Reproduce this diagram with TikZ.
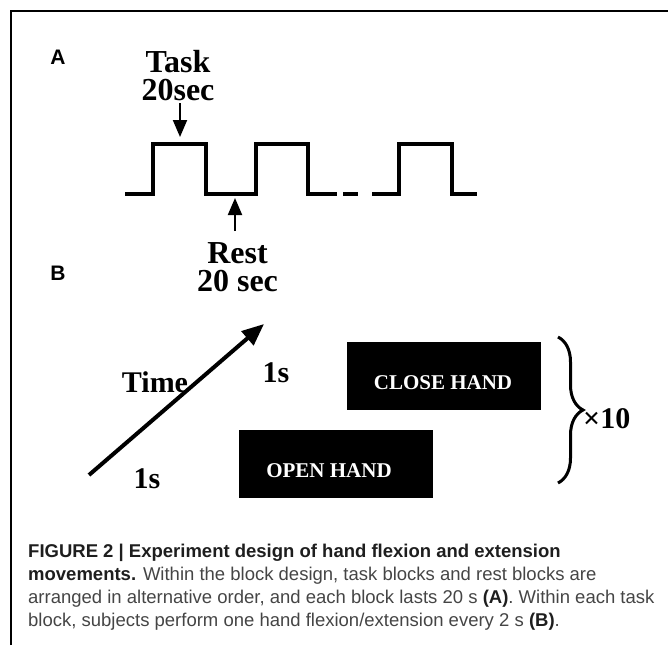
\documentclass[tikz,border=0pt]{standalone}
\usepackage{fontspec}
\setmainfont{Liberation Serif}
\newfontfamily\capfont{Liberation Sans}
\usetikzlibrary{arrows.meta,decorations.pathreplacing}
\definecolor{captxt}{HTML}{454545}
\definecolor{capbold}{HTML}{1E1E1E}
\begin{document}
\begin{tikzpicture}[x=1pt,y=-1pt,
  big/.style={inner sep=0pt,align=center,font=\fontsize{32}{28}\selectfont\bfseries},
  mid/.style={inner sep=0pt,font=\fontsize{30}{30}\selectfont\bfseries},
  panel/.style={inner sep=0pt,font=\capfont\fontsize{21}{21}\selectfont\bfseries},
  handbox/.style={fill=black,draw=none,minimum width=194pt,minimum height=68pt,inner sep=0pt},
  handtxt/.style={inner sep=0pt,text=white,font=\fontsize{21}{21}\selectfont\bfseries},
  capline/.style={inner sep=0pt,anchor=base west,text=captxt,font=\capfont\fontsize{18.5}{18.5}\selectfont},
  wave/.style={line width=3.2pt},
  pointer/.style={line width=2pt,-{Triangle[length=17pt,width=14pt]}},
  timearrow/.style={line width=4pt,-{Triangle[length=22pt,width=18pt]}}]
\useasboundingbox (0,0) rectangle (668,645);
% frame
\draw[line width=1.5pt] (11,645) -- (11,11) -- (668,11);
% panel labels
\node[panel,anchor=center] (lA) at (58,57) {A};
\node[panel,anchor=center] (lB) at (58,273) {B};
% waveform
\draw[wave] (125,194) -- (153,194) -- (153,144) -- (206,144) -- (206,194) -- (256,194) -- (256,144) -- (308,144) -- (308,194) -- (337,194);
\draw[wave] (343,194) -- (358,194);
\draw[wave] (372,194) -- (399,194) -- (399,144) -- (452,144) -- (452,194) -- (477,194);
\coordinate (taskpt) at (180,137);
\coordinate (restpt) at (235,198);
\coordinate (tstart) at (180,103);
\coordinate (rstart) at (235,231);
% task label
\node[big,anchor=north] (task) at (178,50) {Task\\20sec};
\draw[pointer] (tstart) -- (taskpt);
% rest label
\node[big,anchor=north] (rest) at (237.5,242) {Rest\\20 sec};
\draw[pointer] (rstart) -- (restpt);
% panel B
\coordinate (ttail) at (89,475);
\coordinate (ttip) at (264,324);
\draw[timearrow] (ttail) -- (ttip);
\node[mid,anchor=base] (time) at (155,392) {Time};
\node[mid,anchor=base] (s1top) at (276,382) {1s};
\node[mid,anchor=base] (s1bot) at (147,488) {1s};
\node[handbox] (close) at (444,376) {};
\node[handtxt,anchor=base] (closet) at (443,389) {CLOSE HAND};
\node[handbox] (open) at (336,463.5) {};
\node[handtxt,anchor=base] (opent) at (329,477) {OPEN HAND};
\coordinate (btop) at (558,337);
\coordinate (bbot) at (558,483);
\draw[line width=3pt,decorate,decoration={brace,amplitude=25pt}] (btop) -- (bbot);
\node[mid,anchor=base west] (times10) at (583,428) {×10};
% caption
\node[capline] (c1) at (28,557) {\textcolor{capbold}{\bfseries FIGURE 2 | Experiment design of hand flexion and extension}};
\node[capline] (c2) at (28,580) {\textcolor{capbold}{\bfseries movements.} Within the block design, task blocks and rest blocks are};
\node[capline] (c3) at (28,603) {arranged in alternative order, and each block lasts 20 s \textcolor{capbold}{\bfseries (A)}. Within each task};
\node[capline] (c4) at (28,626) {block, subjects perform one hand flexion/extension every 2 s \textcolor{capbold}{\bfseries (B)}.};
\end{tikzpicture}
\end{document}
